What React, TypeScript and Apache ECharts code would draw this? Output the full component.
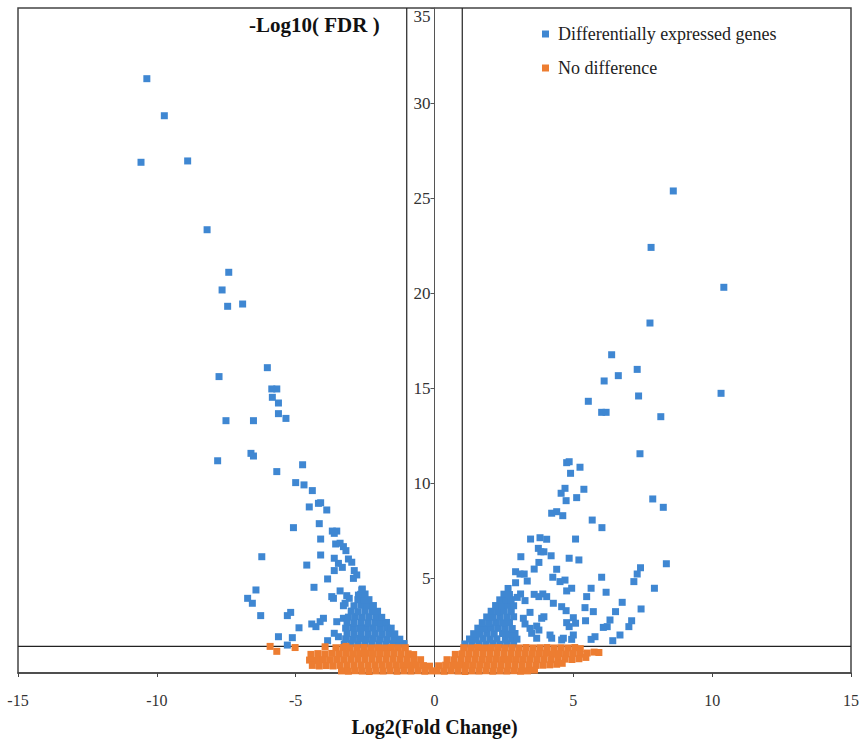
import React, { useEffect, useRef } from "react";
import * as echarts from "echarts";

// ---- Data (log2 fold change, -log10 FDR) ----
const xTicks = [-15, -10, -5, 0, 5, 10, 15];
const yTicks = [0, 5, 10, 15, 20, 25, 30, 35];
const fdrThreshold = 1.4;
const fcThreshold = 1;

const degLeftScatter: [number, number][] = [
  [-10.36, 31.28], [-9.73, 29.33], [-10.57, 26.88], [-8.89, 26.95], [-8.19, 23.33],
  [-7.41, 21.09], [-7.65, 20.16], [-7.45, 19.3], [-6.91, 19.42], [-6.02, 16.07],
  [-7.76, 15.6], [-5.86, 14.95], [-5.68, 14.95], [-5.84, 14.51], [-5.62, 14.21],
  [-5.62, 13.65], [-5.35, 13.4], [-7.51, 13.28], [-6.52, 13.28], [-6.61, 11.56],
  [-6.52, 11.42], [-7.81, 11.17], [-4.75, 10.96], [-5.68, 10.6], [-5.0, 10.02],
  [-4.7, 9.9], [-4.4, 9.6], [-4.18, 8.93], [-4.1, 8.96], [-4.51, 8.74],
  [-3.88, 8.58], [-5.08, 7.65], [-4.15, 7.86], [-3.68, 7.47], [-3.52, 7.47],
  [-3.61, 7.35], [-4.1, 7.05], [-3.56, 6.79], [-3.4, 6.83], [-3.28, 6.65],
  [-3.19, 6.44], [-4.1, 6.21], [-6.22, 6.12], [-3.1, 6.0], [-2.98, 5.83],
  [-3.61, 6.04], [-3.46, 5.77], [-3.32, 5.56], [-4.6, 5.68], [-3.61, 5.39],
  [-2.89, 5.39], [-2.8, 5.16], [-2.92, 4.98], [-3.85, 4.95], [-4.34, 4.51],
  [-6.43, 4.37], [-6.73, 3.93], [-6.56, 3.67], [-3.7, 4.02], [-3.64, 3.93],
  [-3.4, 4.32], [-3.16, 4.07], [-3.07, 3.93], [-3.22, 3.67], [-2.62, 4.37],
  [-2.74, 4.1], [-3.28, 3.54], [-6.26, 3.02], [-5.3, 3.02], [-5.18, 3.19],
  [-4.42, 2.58], [-4.27, 2.44], [-4.12, 2.7], [-4.0, 2.88], [-4.88, 2.38],
  [-3.52, 2.7], [-3.28, 2.88], [-3.61, 2.09], [-3.46, 1.91], [-3.85, 1.7],
  [-5.62, 1.91], [-5.12, 1.86], [-5.3, 1.47],
];

const degRightScatter: [number, number][] = [
  [8.6, 25.37], [7.8, 22.4], [10.42, 20.3], [7.76, 18.42], [6.38, 16.75],
  [7.3, 15.98], [6.62, 15.65], [6.11, 15.37], [7.35, 14.58], [10.32, 14.72],
  [5.54, 14.3], [6.02, 13.72], [6.18, 13.72], [8.15, 13.49], [7.4, 11.54],
  [4.76, 11.07], [4.85, 11.12], [5.24, 10.83], [4.9, 10.51], [4.7, 9.72],
  [5.38, 9.67], [4.56, 9.46], [5.12, 9.23], [4.74, 9.07], [7.86, 9.16],
  [8.24, 8.72], [4.22, 8.41], [4.4, 8.49], [4.62, 8.28], [5.68, 8.05],
  [6.03, 7.65], [3.46, 7.05], [3.8, 7.12], [4.04, 7.04], [5.08, 7.05],
  [3.74, 6.56], [3.83, 6.38], [3.94, 6.38], [4.2, 6.17], [3.11, 6.12],
  [4.85, 6.04], [5.2, 5.95], [3.76, 5.82], [3.59, 5.47], [4.4, 5.46],
  [8.35, 5.75], [7.42, 5.54], [7.3, 5.21], [7.18, 4.81], [2.92, 5.33],
  [3.08, 5.21], [3.23, 5.21], [4.26, 5.04], [4.52, 4.81], [4.7, 4.89],
  [6.02, 5.04], [3.34, 4.84], [2.92, 4.75], [5.64, 4.46], [4.76, 4.32],
  [4.94, 4.46], [6.18, 4.25], [7.92, 4.46], [3.59, 4.14], [3.9, 4.16],
  [4.04, 4.02], [3.76, 4.02], [3.1, 4.16], [2.98, 3.98], [3.26, 3.81],
  [4.28, 3.67], [5.48, 4.02], [6.76, 3.72], [4.58, 3.49], [4.74, 3.28],
  [5.42, 3.44], [5.72, 3.23], [6.52, 3.23], [7.44, 3.37], [2.75, 3.26],
  [3.44, 3.19], [3.2, 2.88], [3.94, 2.96], [3.86, 2.88], [5.0, 2.91],
  [5.08, 2.62], [6.32, 2.79], [6.22, 2.44], [4.76, 2.65], [4.85, 2.44],
  [5.44, 2.75], [7.1, 2.75], [7.0, 2.44], [3.26, 2.58], [3.44, 2.35],
  [3.68, 2.47], [3.76, 2.26], [6.08, 2.4], [4.16, 2.0], [4.22, 1.83],
  [5.0, 2.0], [4.94, 1.77], [6.68, 2.0], [6.42, 1.7], [5.78, 1.91],
  [5.64, 1.77], [4.64, 1.83], [4.58, 1.74], [3.5, 2.09], [3.68, 1.83],
];

const degLeftCluster: [number, number][] = [
  [-3.25, 1.52], [-3.0, 1.55], [-2.75, 1.51], [-2.5, 1.54], [-2.25, 1.52], [-2.0, 1.53], [-1.75, 1.51], [-1.5, 1.54], [-1.27, 1.52], [-1.1, 1.55],
  [-3.2, 1.8], [-2.95, 1.77], [-2.7, 1.82], [-2.45, 1.78], [-2.2, 1.81], [-1.95, 1.79], [-1.7, 1.76], [-1.45, 1.8], [-1.25, 1.78],
  [-3.15, 2.08], [-2.9, 2.05], [-2.65, 2.09], [-2.4, 2.06], [-2.15, 2.08], [-1.9, 2.04], [-1.65, 2.07], [-1.43, 2.06],
  [-3.2, 2.36], [-2.95, 2.39], [-2.7, 2.35], [-2.45, 2.38], [-2.2, 2.37], [-1.95, 2.35], [-1.72, 2.39], [-1.56, 2.36],
  [-3.15, 2.66], [-2.9, 2.63], [-2.65, 2.67], [-2.4, 2.64], [-2.15, 2.66], [-1.92, 2.64], [-1.73, 2.66],
  [-3.1, 2.94], [-2.85, 2.97], [-2.6, 2.93], [-2.35, 2.96], [-2.1, 2.95], [-1.9, 2.93],
  [-3.0, 3.26], [-2.75, 3.23], [-2.5, 3.27], [-2.25, 3.24], [-2.05, 3.25],
  [-2.9, 3.54], [-2.65, 3.57], [-2.42, 3.53], [-2.2, 3.55],
  [-2.76, 3.86], [-2.55, 3.83], [-2.36, 3.86],
  [-2.66, 4.14], [-2.5, 4.16],
  [-2.6, 4.42],
];

const degRightCluster: [number, number][] = [
  [1.1, 1.53], [1.35, 1.51], [1.6, 1.54], [1.85, 1.52], [2.1, 1.55], [2.35, 1.51], [2.6, 1.53], [2.85, 1.52],
  [1.26, 1.79], [1.5, 1.77], [1.75, 1.81], [2.0, 1.78], [2.25, 1.8], [2.55, 1.77], [2.78, 1.81], [2.97, 1.78],
  [1.41, 2.07], [1.65, 2.05], [1.9, 2.09], [2.15, 2.06], [2.45, 2.08], [2.68, 2.05], [2.9, 2.08],
  [1.56, 2.36], [1.8, 2.34], [2.05, 2.38], [2.3, 2.35], [2.55, 2.37], [2.8, 2.34],
  [1.72, 2.65], [1.95, 2.63], [2.2, 2.67], [2.45, 2.64], [2.7, 2.66],
  [1.88, 2.95], [2.1, 2.93], [2.35, 2.97], [2.6, 2.94], [2.85, 2.96],
  [2.04, 3.25], [2.27, 3.23], [2.5, 3.27], [2.76, 3.24],
  [2.2, 3.55], [2.42, 3.53], [2.65, 3.57], [2.85, 3.54],
  [2.35, 3.85], [2.56, 3.83], [2.76, 3.86],
  [2.5, 4.15], [2.7, 4.13],
  [2.65, 4.45],
];

const noDiffLeft: [number, number][] = [
  [-3.55, 1.33], [-3.3, 1.34], [-3.05, 1.32], [-2.8, 1.33], [-2.55, 1.34], [-2.3, 1.32], [-2.05, 1.33], [-1.8, 1.32], [-1.55, 1.34], [-1.3, 1.33], [-1.05, 1.33],
  [-4.45, 0.98], [-4.2, 1.02], [-3.95, 1.0], [-3.7, 1.03], [-3.45, 1.01], [-3.2, 1.03], [-2.95, 1.0], [-2.7, 1.02], [-2.45, 1.04], [-2.2, 1.0], [-1.95, 1.02], [-1.7, 1.01], [-1.45, 1.03], [-1.2, 1.0], [-0.95, 1.01], [-0.75, 0.97],
  [-4.5, 0.68], [-4.25, 0.66], [-4.0, 0.7], [-3.75, 0.69], [-3.5, 0.71], [-3.25, 0.7], [-3.0, 0.72], [-2.75, 0.73], [-2.5, 0.71], [-2.25, 0.72], [-2.0, 0.7], [-1.75, 0.72], [-1.5, 0.73], [-1.25, 0.71], [-1.0, 0.72], [-0.75, 0.7], [-0.5, 0.7],
  [-4.4, 0.4], [-4.15, 0.37], [-3.9, 0.39], [-3.65, 0.37], [-3.4, 0.4], [-3.15, 0.42], [-2.9, 0.41], [-2.65, 0.42], [-2.4, 0.4], [-2.15, 0.42], [-1.9, 0.43], [-1.65, 0.41], [-1.4, 0.42], [-1.15, 0.4], [-0.9, 0.41], [-0.65, 0.42], [-0.4, 0.39], [-0.18, 0.36],
  [-3.35, 0.11], [-3.1, 0.09], [-2.85, 0.12], [-2.6, 0.1], [-2.35, 0.08], [-2.1, 0.11], [-1.85, 0.1], [-1.6, 0.12], [-1.35, 0.09], [-1.1, 0.11], [-0.85, 0.1], [-0.6, 0.12], [-0.35, 0.09], [-0.1, 0.11],
  [-5.92, 1.4], [-5.68, 1.14], [-5.02, 1.34], [-3.94, 1.38], [-3.19, 1.4],
];

const noDiffRight: [number, number][] = [
  [1.05, 1.33], [1.3, 1.32], [1.55, 1.34], [1.8, 1.32], [2.05, 1.33], [2.3, 1.34], [2.55, 1.32], [2.8, 1.33], [3.05, 1.32], [3.3, 1.34], [3.55, 1.32], [3.8, 1.33], [4.05, 1.34], [4.3, 1.32], [4.55, 1.33], [4.8, 1.32], [5.05, 1.34], [5.25, 1.28],
  [0.75, 0.98], [1.0, 1.01], [1.25, 1.0], [1.5, 1.03], [1.75, 1.0], [2.0, 1.02], [2.25, 1.04], [2.5, 1.0], [2.75, 1.02], [3.0, 1.0], [3.25, 1.03], [3.5, 1.0], [3.75, 1.02], [4.0, 1.04], [4.25, 0.99], [4.5, 1.02], [4.75, 1.0], [5.0, 1.03], [5.25, 0.99], [5.5, 1.05], [5.75, 1.1], [5.92, 1.08],
  [0.45, 0.7], [0.7, 0.69], [0.95, 0.72], [1.2, 0.7], [1.45, 0.72], [1.7, 0.7], [1.95, 0.71], [2.2, 0.73], [2.45, 0.7], [2.7, 0.72], [2.95, 0.7], [3.2, 0.71], [3.45, 0.73], [3.7, 0.7], [3.95, 0.72], [4.2, 0.7], [4.45, 0.71], [4.7, 0.73], [4.95, 0.71], [5.2, 0.75], [5.45, 0.82],
  [0.15, 0.38], [0.4, 0.41], [0.65, 0.4], [0.9, 0.42], [1.15, 0.4], [1.4, 0.41], [1.65, 0.43], [1.9, 0.4], [2.15, 0.42], [2.4, 0.4], [2.65, 0.41], [2.9, 0.43], [3.15, 0.4], [3.4, 0.42], [3.65, 0.4], [3.9, 0.41], [4.15, 0.43], [4.4, 0.46], [4.6, 0.51],
  [0.1, 0.11], [0.35, 0.09], [0.6, 0.12], [0.85, 0.1], [1.1, 0.08], [1.35, 0.11], [1.6, 0.1], [1.85, 0.12], [2.1, 0.09], [2.35, 0.11], [2.6, 0.1], [2.85, 0.12], [3.1, 0.09], [3.35, 0.11], [3.6, 0.15],
];

const seriesNames = ["Differentially expressed genes", "No difference"];
const colors = ["#3F87D2", "#ED7D31"];

const SERIF = "'Liberation Serif', 'Times New Roman', serif";

const GRID_LEFT = 18;
const GRID_RIGHT = 13;
const CHART_W = 864;

export default function App() {
  const ref = useRef<HTMLDivElement>(null);

  useEffect(() => {
    if (!ref.current) return;
    const chart = echarts.init(ref.current, undefined, { renderer: "svg" });
    const lineStyle = { color: "#222", width: 1.2, type: "solid" as const };
    const thresholdLine = (name: string, data: [number, number][]) => ({
      name,
      type: "line",
      data,
      showSymbol: false,
      symbol: "none",
      silent: true,
      lineStyle,
      z: 1,
    });
    // move the y axis onto x = 0 (middle of the x range)
    const plotW = CHART_W - GRID_LEFT - GRID_RIGHT;
    const xMin = xTicks[0];
    const xMax = xTicks[xTicks.length - 1];
    const yAxisOffset = -((0 - xMin) / (xMax - xMin)) * plotW;

    chart.setOption({
      animation: false,
      grid: {
        left: GRID_LEFT,
        right: GRID_RIGHT,
        top: 8,
        bottom: 68,
        outerBoundsMode: "none",
        containLabel: false,
        show: true,
        borderColor: "#444",
        borderWidth: 1.5,
        backgroundColor: "transparent",
      },
      legend: {
        data: seriesNames,
        orient: "vertical",
        left: 537,
        top: 20,
        itemGap: 16,
        itemWidth: 7,
        itemHeight: 7,
        icon: "rect",
        textStyle: { fontFamily: SERIF, fontSize: 18, color: "#222", padding: [0, 0, 0, 4] },
      },
      xAxis: {
        type: "value",
        min: xMin,
        max: xMax,
        interval: 5,
        splitLine: { show: false },
        axisLine: { onZero: false, lineStyle: { color: "#444", width: 1.5 } },
        axisTick: { show: true, length: 4, lineStyle: { color: "#444" } },
        axisLabel: { fontFamily: SERIF, fontSize: 16, color: "#333", margin: 19 },
        name: "Log2(Fold Change)",
        nameLocation: "middle",
        nameGap: 44,
        nameTextStyle: { fontFamily: SERIF, fontSize: 20, fontWeight: "bold", color: "#111" },
      },
      yAxis: {
        type: "value",
        position: "left",
        offset: yAxisOffset,
        min: yTicks[0],
        max: yTicks[yTicks.length - 1],
        interval: 5,
        splitLine: { show: false },
        axisLine: { show: true, onZero: false, lineStyle: { color: "#555", width: 1 } },
        axisTick: { show: true, length: 4, lineStyle: { color: "#555" } },
        axisLabel: {
          fontFamily: SERIF,
          fontSize: 17,
          color: "#333",
          margin: 4,
          showMinLabel: false,
          verticalAlignMaxLabel: "top",
        },
      },
      graphic: [
        {
          type: "text",
          left: 249,
          top: 14,
          style: {
            text: "-Log10( FDR )",
            font: `bold 21px ${SERIF}`,
            fill: "#111",
          },
        },
      ],
      series: [
        {
          name: seriesNames[0],
          type: "scatter",
          symbol: "rect",
          symbolSize: 7,
          itemStyle: { color: colors[0], opacity: 1 },
          data: [...degLeftScatter, ...degRightScatter, ...degLeftCluster, ...degRightCluster],
          z: 2,
        },
        {
          name: seriesNames[1],
          type: "scatter",
          symbol: "rect",
          symbolSize: 7,
          itemStyle: { color: colors[1], opacity: 1 },
          data: [...noDiffLeft, ...noDiffRight],
          z: 3,
        },
        thresholdLine("fdr", [[xMin, fdrThreshold], [xMax, fdrThreshold]]),
        thresholdLine("fcLeft", [[-fcThreshold, fdrThreshold], [-fcThreshold, yTicks[yTicks.length - 1]]]),
        thresholdLine("fcRight", [[fcThreshold, fdrThreshold], [fcThreshold, yTicks[yTicks.length - 1]]]),
      ],
    });
    return () => chart.dispose();
  }, []);

  return (
    <div
      ref={ref}
      style={{ position: "absolute", left: 0, top: 0, width: CHART_W, height: 741, background: "#fff" }}
    />
  );
}
